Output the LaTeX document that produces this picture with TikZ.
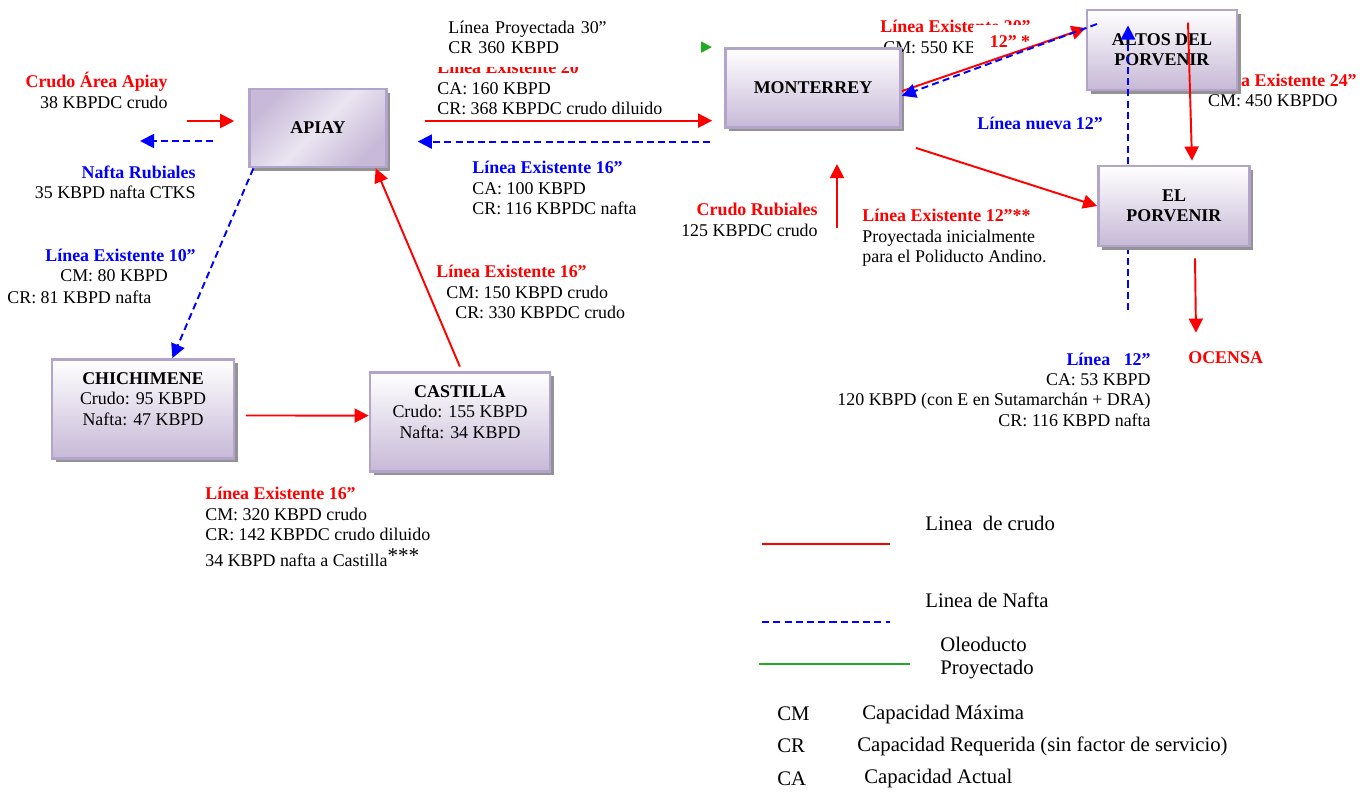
\documentclass[tikz,border=0pt]{standalone}
\usepackage{fontspec}
\setmainfont{Liberation Serif}
\usepackage{tikz}
\usetikzlibrary{arrows.meta}
\usetikzlibrary{positioning}
\usetikzlibrary{calc}
\usetikzlibrary{shadows}
\definecolor{lavborde}{HTML}{B3A4CB}
\definecolor{lavfondo}{HTML}{C7B9D7}
\definecolor{lavclaro}{HTML}{EAE5F1}
\definecolor{verdeproy}{HTML}{22AA22}
\tikzset{
  estacion/.style = {rectangle, draw=lavborde, line width=1.6pt, align=center,
    top color=white, bottom color=lavfondo, inner sep=0pt,
    font=\fontsize{10.2}{11.6}\selectfont,
    drop shadow={shadow xshift=2.2pt, shadow yshift=-2.2pt, fill=gray!85, opacity=1}},
  rotulo/.style = {inner sep=0pt, font=\fontsize{10.2}{11.6}\selectfont},
  leyenda/.style = {inner sep=0pt, anchor=west, font=\fontsize{11.8}{13.6}\selectfont},
  crudo/.style = {draw=red, line width=1.1pt, -{Triangle[length=8pt,width=8pt]}},
  nafta/.style = {draw=blue, line width=1.1pt, dash pattern=on 4pt off 2.4pt,
    -{Triangle[length=8pt,width=8pt]}},
  proyectado/.style = {draw=verdeproy, line width=1.6pt, -{Triangle[length=6.5pt,width=6.2pt]}}
}
\newcommand{\rojo}[1]{\textcolor{red}{\textbf{#1}}}
\newcommand{\azul}[1]{\textcolor{blue}{\textbf{#1}}}

\begin{document}
\begin{tikzpicture}[x=0.02cm, y=-0.02cm]
\useasboundingbox (0,0) rectangle (1372,791);

% rotulos tapados por las cajas
\node [rotulo, anchor=west, align=left] (l24) at (1206,90.5) {\rojo{Línea Existente 24”}\\\hspace*{1pt}CM: 450 KBPDO};
\node [rotulo, anchor=west, align=left] (l30) at (880,37) {\rojo{Línea Existente 30”}\\\hspace*{1.7pt}CM: 550 KBPD};

% estaciones
\node [estacion, minimum width=2.74cm, minimum height=1.56cm,
  left color=lavfondo, right color=lavfondo, middle color=lavclaro, shading angle=45]
  (apiay) at (318,128) {\textbf{APIAY}};
\node [estacion, minimum width=3.5cm, minimum height=1.58cm] (monterrey) at (813,88) {\textbf{MONTERREY}};
\node [estacion, minimum width=3.0cm, minimum height=1.6cm] (altos) at (1162,50) {\textbf{ALTOS DEL}\\\textbf{PORVENIR}};
\node [estacion, minimum width=3.64cm, minimum height=1.98cm] (chichimene) at (143,409)
  {\textbf{CHICHIMENE}\\Crudo: 95 KBPD\\Nafta: 47 KBPD\\\mbox{}};
\node [estacion, minimum width=3.6cm, minimum height=1.98cm] (castilla) at (460,422)
  {\textbf{CASTILLA}\\Crudo: 155 KBPD\\Nafta: 34 KBPD\\\mbox{}};

% rotulos
\node [rotulo, anchor=east, align=right] (crudoapiay) at (168,90.5) {\rojo{Crudo Área Apiay}\\38 KBPDC crudo};
\node [rotulo, anchor=east, align=right] (naftarub) at (196,182.5) {\azul{Nafta Rubiales}\\35 KBPD nafta CTKS};
\node [rotulo, anchor=west] (l10a) at (45,255) {\azul{Línea Existente 10”}};
\node [rotulo, anchor=west] (l10b) at (60,276) {CM: 80 KBPD};
\node [rotulo, anchor=west] (l10c) at (7,297) {CR: 81 KBPD nafta};
\node [rotulo, anchor=west, align=left] (l16ca) at (436,292)
  {\rojo{Línea Existente 16”}\\\hspace*{5.7pt}CM: 150 KBPD crudo\\\hspace*{10.8pt}CR: 330 KBPDC crudo};
\node [rotulo, anchor=west, align=left] (l16cc) at (205,527)
  {\rojo{Línea Existente 16”}\\CM: 320 KBPD crudo\\CR: 142 KBPDC crudo diluido\\[3pt]34 KBPD nafta a Castilla\raisebox{2pt}{\fontsize{12}{12}\selectfont ***}};
\node [rotulo, anchor=west, align=left] (l16ma) at (472,188) {\azul{Línea Existente 16”}\\CA: 100 KBPD\\CR: 116 KBPDC nafta};
\node [rotulo, anchor=east, align=right] (rubiales) at (818,220) {\rojo{Crudo Rubiales}\\125 KBPDC crudo};
\node [rotulo, anchor=west, align=left] (l12c) at (862,238)
  {\rojo{Línea Existente 12”**}\\Proyectada inicialmente\\para el Poliducto Andino.};
\node [rotulo, anchor=west] (lnueva) at (977,123) {\azul{Línea nueva 12”}};
\node [rotulo, anchor=west] (ocensa) at (1188,358) {\rojo{OCENSA}};
\node [rotulo, anchor=east, align=right] (l12b) at (1151,389.5)
  {\azul{Línea\ \ \ 12”}\\CA: 53 KBPD\\120 KBPD (con E en Sutamarchán + DRA)\\CR: 116 KBPD nafta};

% oleoducto proyectado, casi tapado por su rotulo
\node [rotulo, anchor=west, align=left] (l20) at (437,88) {\rojo{Línea Existente 20”}\\CA: 160 KBPD\\CR: 368 KBPDC crudo diluido};
\coordinate (proy-ini) at (440,47);
\draw [proyectado] (proy-ini) -- ($(monterrey.north west)+(-12,0)$);
\node [rotulo, fill=white, anchor=south west, align=left, inner xsep=12pt, inner ysep=7.3pt,
  text width=131.6pt] (proy) at (427,67) {Línea Proyectada 30”\\CR 360 KBPD};
\node [rotulo, fill=white, minimum width=1.48cm, minimum height=0.68cm] (l12a) at (1010,42) {\rojo{12” *}};

% lineas de crudo y nafta
\coordinate (apiay-src) at (187,121);
\coordinate (nafta-dst) at (140,141);
\coordinate (rubiales-src) at (837,228);
\coordinate (nafta-sur) at (1128,310);
\coordinate (altos-in) at (1097,24);
\draw [crudo, shorten >=7.9pt] (apiay-src) -- (apiay-src -| apiay.west);
\draw [nafta, shorten <=20pt] (nafta-dst -| apiay.west) -- (nafta-dst);
\draw [nafta] (apiay.-148) -- (chichimene.60);
\draw [crudo, shorten <=6pt] (chichimene.-4) -- (castilla.176);
\draw [crudo, shorten <=2.8pt] (castilla.88) -- (apiay.-35);
\draw [crudo, shorten <=21pt, shorten >=6.8pt] (apiay.6) -- (apiay.6 -| monterrey.west);
\draw [nafta, shorten <=8pt, shorten >=17pt] (apiay.-11 -| monterrey.west) -- (apiay.-11);
\draw [crudo, shorten >=20pt] (rubiales-src) -- (rubiales-src |- monterrey.south);
\draw [crudo] (monterrey.-2) -- (altos.164);
\draw [nafta] (altos-in) -- (monterrey.-5);
\draw [nafta, shorten >=9.6pt] (nafta-sur) -- (nafta-sur |- altos.north);

\node [estacion, minimum width=3.02cm, minimum height=1.6cm] (elporvenir) at (1174,206) {\textbf{EL}\\\textbf{PORVENIR}};
\draw [crudo] ($(monterrey.south east)+(14,19)$) -- (elporvenir.west);
\draw [crudo] ($(altos.north)+(26,14)$) -- ($(elporvenir.north)+(18,-4)$);
\draw [crudo] ($(elporvenir.south)+(21,11)$) -- ($(ocensa.north west)+(8,-19)$);

% convenciones
\coordinate (leg-crudo-a) at (762,544);
\coordinate (leg-crudo-b) at (890,544);
\coordinate (leg-nafta-a) at (762,622);
\coordinate (leg-nafta-b) at (890,622);
\coordinate (leg-proy-a) at (759,664);
\coordinate (leg-proy-b) at (910,664);
\draw [draw=red, line width=1.1pt] (leg-crudo-a) -- (leg-crudo-b);
\draw [draw=blue, line width=1.1pt, dash pattern=on 4pt off 2.4pt] (leg-nafta-a) -- (leg-nafta-b);
\draw [draw=verdeproy, line width=1.6pt] (leg-proy-a) -- (leg-proy-b);
\node [leyenda] (leg-crudo) at (925,523) {Linea\ \ de crudo};
\node [leyenda] (leg-nafta) at (925,600) {Linea de Nafta};
\node [leyenda, align=left] (leg-proy) at (940,658) {Oleoducto\\Proyectado};
\node [leyenda] (cm) at (777,714) {CM};
\node [leyenda] (cm-txt) at (862,714) {Capacidad Máxima};
\node [leyenda] (cr) at (777,746) {CR};
\node [leyenda] (cr-txt) at (857,746) {Capacidad Requerida (sin factor de servicio)};
\node [leyenda] (ca) at (777,779) {CA};
\node [leyenda] (ca-txt) at (864,779) {Capacidad Actual};
\end{tikzpicture}
\end{document}
